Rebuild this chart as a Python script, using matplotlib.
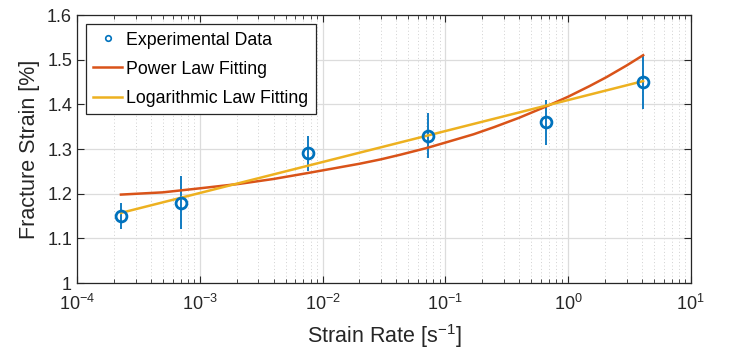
import matplotlib
matplotlib.use("Agg")
import matplotlib.pyplot as plt

plt.rcParams['font.family'] = ['Liberation Sans', 'DejaVu Sans']
plt.rcParams['mathtext.fontset'] = 'custom'
plt.rcParams['mathtext.rm'] = 'Liberation Sans'
plt.rcParams['mathtext.it'] = 'Liberation Sans:italic'

# experimental data (strain rate, fracture strain, error)
rate = [2.28e-4, 7.1e-4, 7.56e-3, 7.3e-2, 0.66, 4.09]
strain = [1.15, 1.18, 1.29, 1.33, 1.36, 1.45]
err = [0.03, 0.06, 0.04, 0.05, 0.05, 0.06]

# power law curve
pow_x = [2.28e-4, 5e-4, 1e-3, 2.1e-3, 4e-3, 7.5e-3, 0.02, 0.03, 0.0427, 0.07,
         0.099, 0.17, 0.25, 0.4, 0.66, 1.0, 1.5, 2.06, 3.0, 4.09]
pow_y = [1.198, 1.203, 1.212, 1.222, 1.233, 1.246, 1.267, 1.277, 1.287, 1.302,
         1.314, 1.333, 1.349, 1.370, 1.395, 1.417, 1.441, 1.461, 1.487, 1.510]

# logarithmic law curve
log_x = [2.28e-4, 0.66, 4.09]
log_y = [1.157, 1.397, 1.452]

blue = '#0072BD'
orange = '#D95319'
yellow = '#EDB120'
dark = '#262626'

fig = plt.figure(figsize=(7.29, 3.49), dpi=100)
ax = fig.add_axes([0.1056, 0.189, 0.842, 0.768])

ax.errorbar(rate, strain, yerr=err, fmt='none', ecolor=blue, elinewidth=1.3, capsize=0, zorder=3)
ax.plot(pow_x, pow_y, color=orange, lw=1.8, label='Power Law Fitting', zorder=4)
ax.plot(log_x, log_y, color=yellow, lw=1.8, label='Logarithmic Law Fitting', zorder=4)
ax.plot(rate, strain, 'o', mfc='none', mec=blue, mew=2, ms=7.8, zorder=5)
# small marker for the legend entry
ax.plot([], [], 'o', mfc='none', mec=blue, mew=1.2, ms=4, label='Experimental Data')

ax.set_xscale('log')
ax.set_xlim(1e-4, 10)
ax.set_ylim(1, 1.6)
ax.set_yticks([1, 1.1, 1.2, 1.3, 1.4, 1.5, 1.6])
ax.set_yticklabels(['1', '1.1', '1.2', '1.3', '1.4', '1.5', '1.6'])

ax.grid(True, which='major', color='#dcdcdc', lw=0.9)
ax.grid(True, which='minor', axis='x', color='#d0d0d0', lw=0.7, ls=(0, (1, 2.5)))
ax.set_axisbelow(True)

ax.tick_params(which='both', direction='in', top=True, right=True, colors=dark, labelsize=13)
ax.tick_params(which='major', length=5, width=0.8)
ax.tick_params(which='minor', length=3, width=0.6)
ax.tick_params(axis='x', which='major', pad=8)
for s in ax.spines.values():
    s.set_color(dark)
    s.set_linewidth(0.9)

ax.set_xlabel('Strain Rate [s$^{-1}$]', fontsize=15.5, color=dark, labelpad=6)
ax.set_ylabel('Fracture Strain [%]', fontsize=15.5, color=dark, labelpad=5)

h, l = ax.get_legend_handles_labels()
order = [2, 0, 1]
leg = ax.legend([h[i] for i in order], [l[i] for i in order], loc='upper left',
                bbox_to_anchor=(0.0147, 0.966), fontsize=12.8, fancybox=False,
                edgecolor=dark, framealpha=1, handlelength=1.6, handletextpad=0.25,
                borderpad=0.42, labelspacing=0.68, borderaxespad=0)
leg.get_frame().set_linewidth(0.9)

fig.savefig('out.png', dpi=100)
